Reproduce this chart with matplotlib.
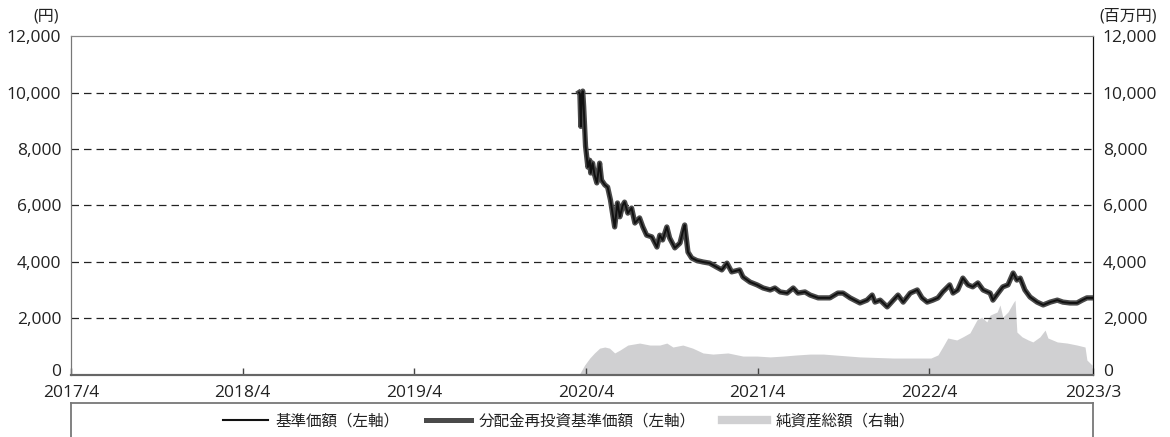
import matplotlib
matplotlib.use("Agg")
import matplotlib.pyplot as plt
import matplotlib.transforms as mtransforms
import pandas as pd
from matplotlib.lines import Line2D

plt.rcParams['font.family'] = ['Open Sans', 'Noto Sans CJK JP', 'DejaVu Sans']

# 基準価額 (円) -- 分配金再投資基準価額 is the same series
nav_dates = [
    "2020-03-17", "2020-03-19", "2020-03-21", "2020-03-23", "2020-03-25", "2020-03-27",
    "2020-03-31", "2020-04-05", "2020-04-09", "2020-04-11", "2020-04-15", "2020-04-19",
    "2020-04-24", "2020-04-30", "2020-05-04", "2020-05-11", "2020-05-17", "2020-05-23",
    "2020-06-01", "2020-06-07", "2020-06-12", "2020-06-18", "2020-06-22", "2020-06-29",
    "2020-07-07", "2020-07-14", "2020-07-24", "2020-07-31", "2020-08-08", "2020-08-19",
    "2020-08-30", "2020-09-05", "2020-09-11", "2020-09-20", "2020-09-26", "2020-10-07",
    "2020-10-18", "2020-10-26", "2020-10-28", "2020-11-04", "2020-11-12", "2020-11-23",
    "2020-12-06", "2020-12-20", "2021-01-04", "2021-01-15", "2021-01-26", "2021-02-05",
    "2021-02-22", "2021-03-01", "2021-03-16", "2021-03-31", "2021-04-13", "2021-04-28",
    "2021-05-08", "2021-05-19", "2021-06-03", "2021-06-16", "2021-06-26", "2021-07-11",
    "2021-07-22", "2021-08-08", "2021-09-02", "2021-09-19", "2021-09-30", "2021-10-15",
    "2021-11-05", "2021-11-20", "2021-12-01", "2021-12-07", "2021-12-18", "2022-01-02",
    "2022-01-15", "2022-01-25", "2022-02-05", "2022-02-20", "2022-03-07", "2022-03-17",
    "2022-03-28", "2022-04-09", "2022-04-20", "2022-04-30", "2022-05-15", "2022-05-22",
    "2022-06-01", "2022-06-12", "2022-06-23", "2022-07-03", "2022-07-14", "2022-07-25",
    "2022-08-09", "2022-08-15", "2022-08-26", "2022-09-05", "2022-09-16", "2022-09-27",
    "2022-10-05", "2022-10-12", "2022-10-22", "2022-11-02", "2022-11-17", "2022-11-30",
    "2022-12-15", "2022-12-30", "2023-01-11", "2023-01-26", "2023-02-10", "2023-02-21",
    "2023-03-03", "2023-03-14",
]
nav = [
    10000, 9950, 8800, 9900, 10050, 9500,
    8100, 7360, 7600, 7150, 7500, 7100,
    6800, 7500, 6900, 6730, 6650, 6200,
    5240, 6090, 5600, 6000, 6120, 5730,
    5910, 5380, 5560, 5240, 4950, 4890,
    4530, 4950, 4780, 5240, 4850, 4500,
    4670, 5200, 5310, 4350, 4140, 4050,
    4000, 3960, 3820, 3720, 3960, 3650,
    3720, 3470, 3290, 3190, 3080, 3010,
    3080, 2940, 2900, 3080, 2900, 2940,
    2830, 2730, 2730, 2900, 2900, 2730,
    2550, 2650, 2830, 2580, 2650, 2410,
    2650, 2830, 2580, 2900, 3010, 2730,
    2580, 2650, 2730, 2940, 3190, 2900,
    3010, 3430, 3190, 3120, 3260, 3010,
    2900, 2650, 2900, 3120, 3190, 3610,
    3360, 3430, 3010, 2760, 2580, 2480,
    2580, 2650, 2580, 2550, 2550, 2650,
    2730, 2730,
]

# 純資産総額 (百万円)
aum_dates = [
    "2020-03-17", "2020-03-29", "2020-04-09", "2020-04-19", "2020-04-30", "2020-05-11",
    "2020-05-21", "2020-06-01", "2020-06-12", "2020-06-29", "2020-07-24", "2020-08-15",
    "2020-09-05", "2020-09-20", "2020-10-03", "2020-10-24", "2020-11-14", "2020-12-06",
    "2020-12-27", "2021-01-28", "2021-03-01", "2021-03-31", "2021-04-28", "2021-05-26",
    "2021-06-24", "2021-07-22", "2021-08-19", "2021-11-05", "2022-01-15", "2022-03-28",
    "2022-04-05", "2022-04-20", "2022-04-30", "2022-05-11", "2022-05-30", "2022-06-12",
    "2022-06-27", "2022-07-12", "2022-07-22", "2022-08-02", "2022-08-09", "2022-08-24",
    "2022-08-30", "2022-09-05", "2022-09-16", "2022-09-27", "2022-10-01", "2022-10-05",
    "2022-10-16", "2022-10-29", "2022-11-08", "2022-11-23", "2022-12-04", "2022-12-10",
    "2022-12-30", "2023-01-20", "2023-02-10", "2023-02-27", "2023-03-03", "2023-03-14",
]
aum = [
    0, 350, 600, 780, 950, 990,
    950, 780, 880, 1060, 1130, 1060,
    1060, 1130, 990, 1060, 950, 780,
    740, 780, 670, 670, 640, 670,
    710, 740, 740, 640, 600, 600,
    600, 710, 990, 1310, 1240, 1350,
    1490, 1950, 2050, 1880, 2120, 2230,
    2480, 2050, 2230, 2550, 2650, 1520,
    1350, 1240, 1170, 1350, 1590, 1310,
    1170, 1130, 1060, 990, 530, 350,
]

yticks = [0, 2000, 4000, 6000, 8000, 10000, 12000]
xtick_dates = ["2017-04-01", "2018-04-01", "2019-04-01", "2020-04-01",
               "2021-04-01", "2022-04-01", "2023-03-16"]
xtick_labels = ["2017/4", "2018/4", "2019/4", "2020/4", "2021/4", "2022/4", "2023/3"]

nav_x = pd.to_datetime(nav_dates)
aum_x = pd.to_datetime(aum_dates)
xt = pd.to_datetime(xtick_dates)

fig = plt.figure(figsize=(11.7, 4.37), dpi=100)
ax = fig.add_axes([0.0607, 0.1419, 0.8735, 0.7757])
ax2 = ax.twinx()

ax2.fill_between(aum_x, aum, 0, color='#d0d0d2', linewidth=0)
ax.set_zorder(ax2.get_zorder() + 1)
ax.patch.set_visible(False)

ax.plot(nav_x, nav, color='#4a4a4a', lw=3.8, solid_joinstyle='round')
ax.plot(nav_x, nav, color='#111111', lw=1.4, solid_joinstyle='round')

for a in (ax, ax2):
    a.set_ylim(0, 12000)
    a.set_yticks(yticks)
    a.set_yticklabels([f"{v:,}" for v in yticks])
    a.tick_params(axis='y', length=0, labelsize=12.5, pad=7, colors='#222222')
ax.set_xlim(pd.Timestamp("2017-04-01"), pd.Timestamp("2023-03-16"))
ax.set_xticks(xt)
ax.set_xticklabels(xtick_labels)
ax.tick_params(axis='x', direction='in', length=5, width=1, color='#444444',
               labelsize=12.5, pad=7.5, labelcolor='#222222')

# the "0" labels sit a little above the baseline
lift = mtransforms.ScaledTranslation(0, 5 / 100, fig.dpi_scale_trans)
for a in (ax, ax2):
    lab = a.get_yticklabels()[0]
    lab.set_transform(lab.get_transform() + lift)

for v in yticks[1:-1]:
    ax.axhline(v, color='#222222', lw=0.9, ls=(0, (6, 4)), zorder=0.5)

for a in (ax, ax2):
    a.spines['left'].set_color('#777777')
    a.spines['top'].set_color('#888888')
    a.spines['right'].set_color('#111111')
    a.spines['bottom'].set_color('#666666')
    a.spines['bottom'].set_linewidth(1.5)

fig.text(0.0397, 0.963, "(円)", fontsize=11.5, ha='center', va='center', color='#222222')
fig.text(0.964, 0.963, "(百万円)", fontsize=11.5, ha='center', va='center', color='#222222')

# legend frame (open at the bottom)
fig.add_artist(Line2D([0.0607, 0.9342], [0.078, 0.078], color='#777777', lw=1.3))
fig.add_artist(Line2D([0.0607, 0.0607], [0.0, 0.078], color='#777777', lw=1.3))
fig.add_artist(Line2D([0.9342, 0.9342], [0.0, 0.078], color='#777777', lw=1.3))

handles = [
    Line2D([], [], color='#111111', lw=1.5),
    Line2D([], [], color='#4a4a4a', lw=3.6),
    Line2D([], [], color='#d0d0d2', lw=6),
]
labels = ["基準価額（左軸）", "分配金再投資基準価額（左軸）", "純資産総額（右軸）"]
fig.legend(handles, labels, loc='center', bbox_to_anchor=(0.486, 0.036), ncol=3,
           frameon=False, fontsize=11.2, handlelength=2.9, handletextpad=0.5,
           columnspacing=1.7, labelcolor='#222222')

fig.savefig("out.png", dpi=100)
